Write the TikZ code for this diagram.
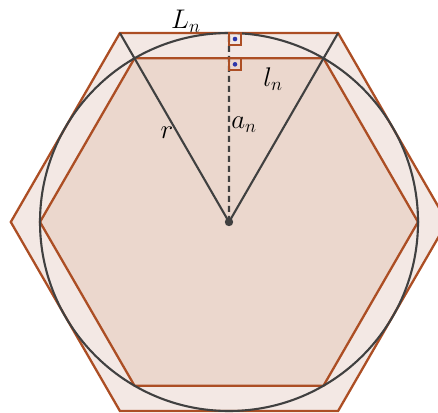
\documentclass[tikz,border=0pt]{standalone}
\usepackage{amsmath}
\usetikzlibrary{calc}
\definecolor{edgebrown}{RGB}{172,78,36}
\definecolor{outerfill}{RGB}{243,232,228}
\definecolor{innerfill}{RGB}{235,215,205}
\definecolor{darkline}{RGB}{64,64,64}
\definecolor{dotblue}{RGB}{45,55,170}
\tikzset{
    hexline/.style={draw=edgebrown, line width=2.3pt, line join=miter},
    radline/.style={draw=darkline, line width=2.1pt},
    anglebox/.style={draw=edgebrown, line width=2pt},
    lbl/.style={font=\huge, scale=1.3, inner sep=0pt}
}
\begin{document}
\begin{tikzpicture}[x=1pt, y=1pt]
    \useasboundingbox (0,0) rectangle (438,412);
    \clip (0,0) rectangle (438,412);

    % Centre and vertices
    \coordinate (O) at (229,190);
    \foreach \i in {0,...,5} {
        \coordinate (P\i) at ($(O)+(\i*60:218.2)$);
        \coordinate (Q\i) at ($(O)+(\i*60:189)$);
    }

    % Circumscribed hexagon
    \filldraw[hexline, fill=outerfill] (P0) -- (P1) -- (P2) -- (P3) -- (P4) -- (P5) -- cycle;
    % Inscribed hexagon
    \filldraw[hexline, fill=innerfill] (Q0) -- (Q1) -- (Q2) -- (Q3) -- (Q4) -- (Q5) -- cycle;
    % Circle
    \draw[radline] (O) circle (189);

    % Radii to the outer vertices
    \draw[radline] (O) -- (P1);
    \draw[radline] (O) -- (P2);

    % Apothem
    \coordinate (Mtop) at ($(P1)!0.5!(P2)$);
    \draw[radline, dash pattern=on 6pt off 4pt] (O) -- (Mtop);

    % Right angle marks
    \coordinate (Mint) at ($(Q1)!0.5!(Q2)$);
    \draw[anglebox] (Mtop) rectangle ++(12,-12);
    \draw[anglebox] (Mint) rectangle ++(12,-12);
    \fill[dotblue] ($(Mtop)+(6,-6)$) circle (2.3);
    \fill[dotblue] ($(Mint)+(6,-6)$) circle (2.3);

    % Centre point
    \fill[darkline] (O) circle (4.2);

    % Labels
    \node[lbl] (Llab) at (186,391) {$L_n$};
    \node[lbl] (llab) at (273,333) {$l_n$};
    \node[lbl] (rlab) at (167,279) {$r$};
    \node[lbl] (alab) at (244,287) {$a_n$};
\end{tikzpicture}
\end{document}
